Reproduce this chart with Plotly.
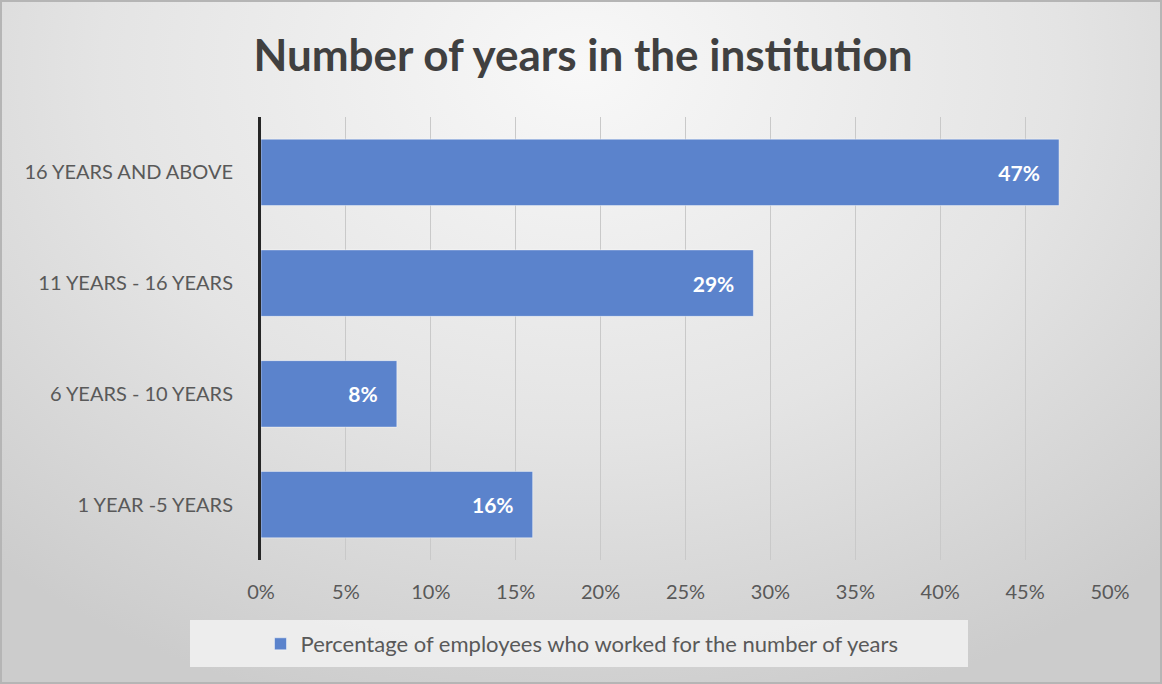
import base64
import plotly.graph_objects as go

# Data
categories = ["1 YEAR -5 YEARS", "6 YEARS - 10 YEARS", "11 YEARS - 16 YEARS", "16 YEARS AND ABOVE"]
percentages = [16, 8, 29, 47]
series_name = "Percentage of employees who worked for the number of years"
tick_values = [0, 5, 10, 15, 20, 25, 30, 35, 40, 45, 50]
tick_labels = [f"{v}%" for v in tick_values]

W, H = 1162, 684
L, R, T, B = 261, 52, 117, 124
PW, PH = W - L - R, H - T - B

FONT = "Lato"
BAR_COLOR = "#5b83cc"

# Soft radial gradient backdrop as an SVG data URI
svg = f"""<svg xmlns='http://www.w3.org/2000/svg' width='{W}' height='{H}' viewBox='0 0 {W} {H}' preserveAspectRatio='none'>
<defs><radialGradient id='g' cx='0.5' cy='0.1' r='0.75' gradientTransform='translate(0.5 0.1) scale(1 1.3) translate(-0.5 -0.1)'>
<stop offset='0' stop-color='#f8f8f8'/><stop offset='0.55' stop-color='#e4e4e4'/><stop offset='1' stop-color='#cccccc'/>
</radialGradient></defs>
<rect x='0' y='0' width='{W}' height='{H}' fill='url(#g)'/>
<rect x='1' y='1' width='{W-2}' height='{H-2}' fill='none' stroke='#b5b5b5' stroke-width='2'/>
</svg>"""
bg_uri = "data:image/svg+xml;base64," + base64.b64encode(svg.encode()).decode()


def px_x(p):
    return (p - L) / PW


def px_y(p):
    return (H - B - p) / PH


fig = go.Figure()
fig.add_trace(go.Bar(
    y=categories,
    x=percentages,
    orientation="h",
    name=series_name,
    marker=dict(color=BAR_COLOR, line=dict(color="rgba(255,255,255,0.45)", width=1)),
    width=0.6,
    text=[f"<b>{v}%</b>\u00a0\u00a0\u00a0" for v in percentages],
    textposition="inside",
    insidetextanchor="end",
    textfont=dict(family=FONT, size=21, color="white"),
    hoverinfo="skip",
))

fig.update_layout(
    width=W, height=H,
    margin=dict(l=L, r=R, t=T, b=B, autoexpand=False),
    paper_bgcolor="white",
    plot_bgcolor="rgba(0,0,0,0)",
    title=dict(
        text="<b>Number of years in the institution</b>",
        x=583 / W, xref="container", xanchor="center",
        y=1 - 56 / H, yref="container", yanchor="middle",
        font=dict(family=FONT, size=44, color="#404040"),
    ),
    xaxis=dict(
        range=[0, 50], tickvals=tick_values, ticktext=tick_labels,
        showgrid=True, gridcolor="#c9c9c9", gridwidth=1,
        zeroline=False, showline=False, ticks="",
        ticklabelstandoff=18,
        tickfont=dict(family=FONT, size=20, color="#595959"),
        fixedrange=True,
    ),
    yaxis=dict(
        categoryorder="array", categoryarray=categories,
        showgrid=False, zeroline=False,
        showline=True, linecolor="#262626", linewidth=3,
        ticks="", ticklabelstandoff=21,
        tickfont=dict(family=FONT, size=20, color="#595959"),
        range=[-0.5, 3.5], fixedrange=True,
    ),
    showlegend=True,
    legend=dict(
        orientation="h", x=px_x(582), xanchor="center",
        y=px_y(644), yanchor="middle",
        bgcolor="rgba(0,0,0,0)",
        font=dict(family=FONT, size=22, color="#595959"),
        itemwidth=30,
    ),
    images=[dict(
        source=bg_uri, xref="paper", yref="paper",
        x=px_x(0), y=px_y(0), sizex=W / PW, sizey=H / PH,
        xanchor="left", yanchor="top", sizing="stretch", layer="below",
    )],
    shapes=[dict(
        type="rect", xref="paper", yref="paper", layer="below",
        x0=px_x(190), x1=px_x(968), y0=px_y(620), y1=px_y(667),
        fillcolor="rgba(242,242,242,0.85)", line=dict(width=0),
    )],
)

fig.write_html("out.html")
